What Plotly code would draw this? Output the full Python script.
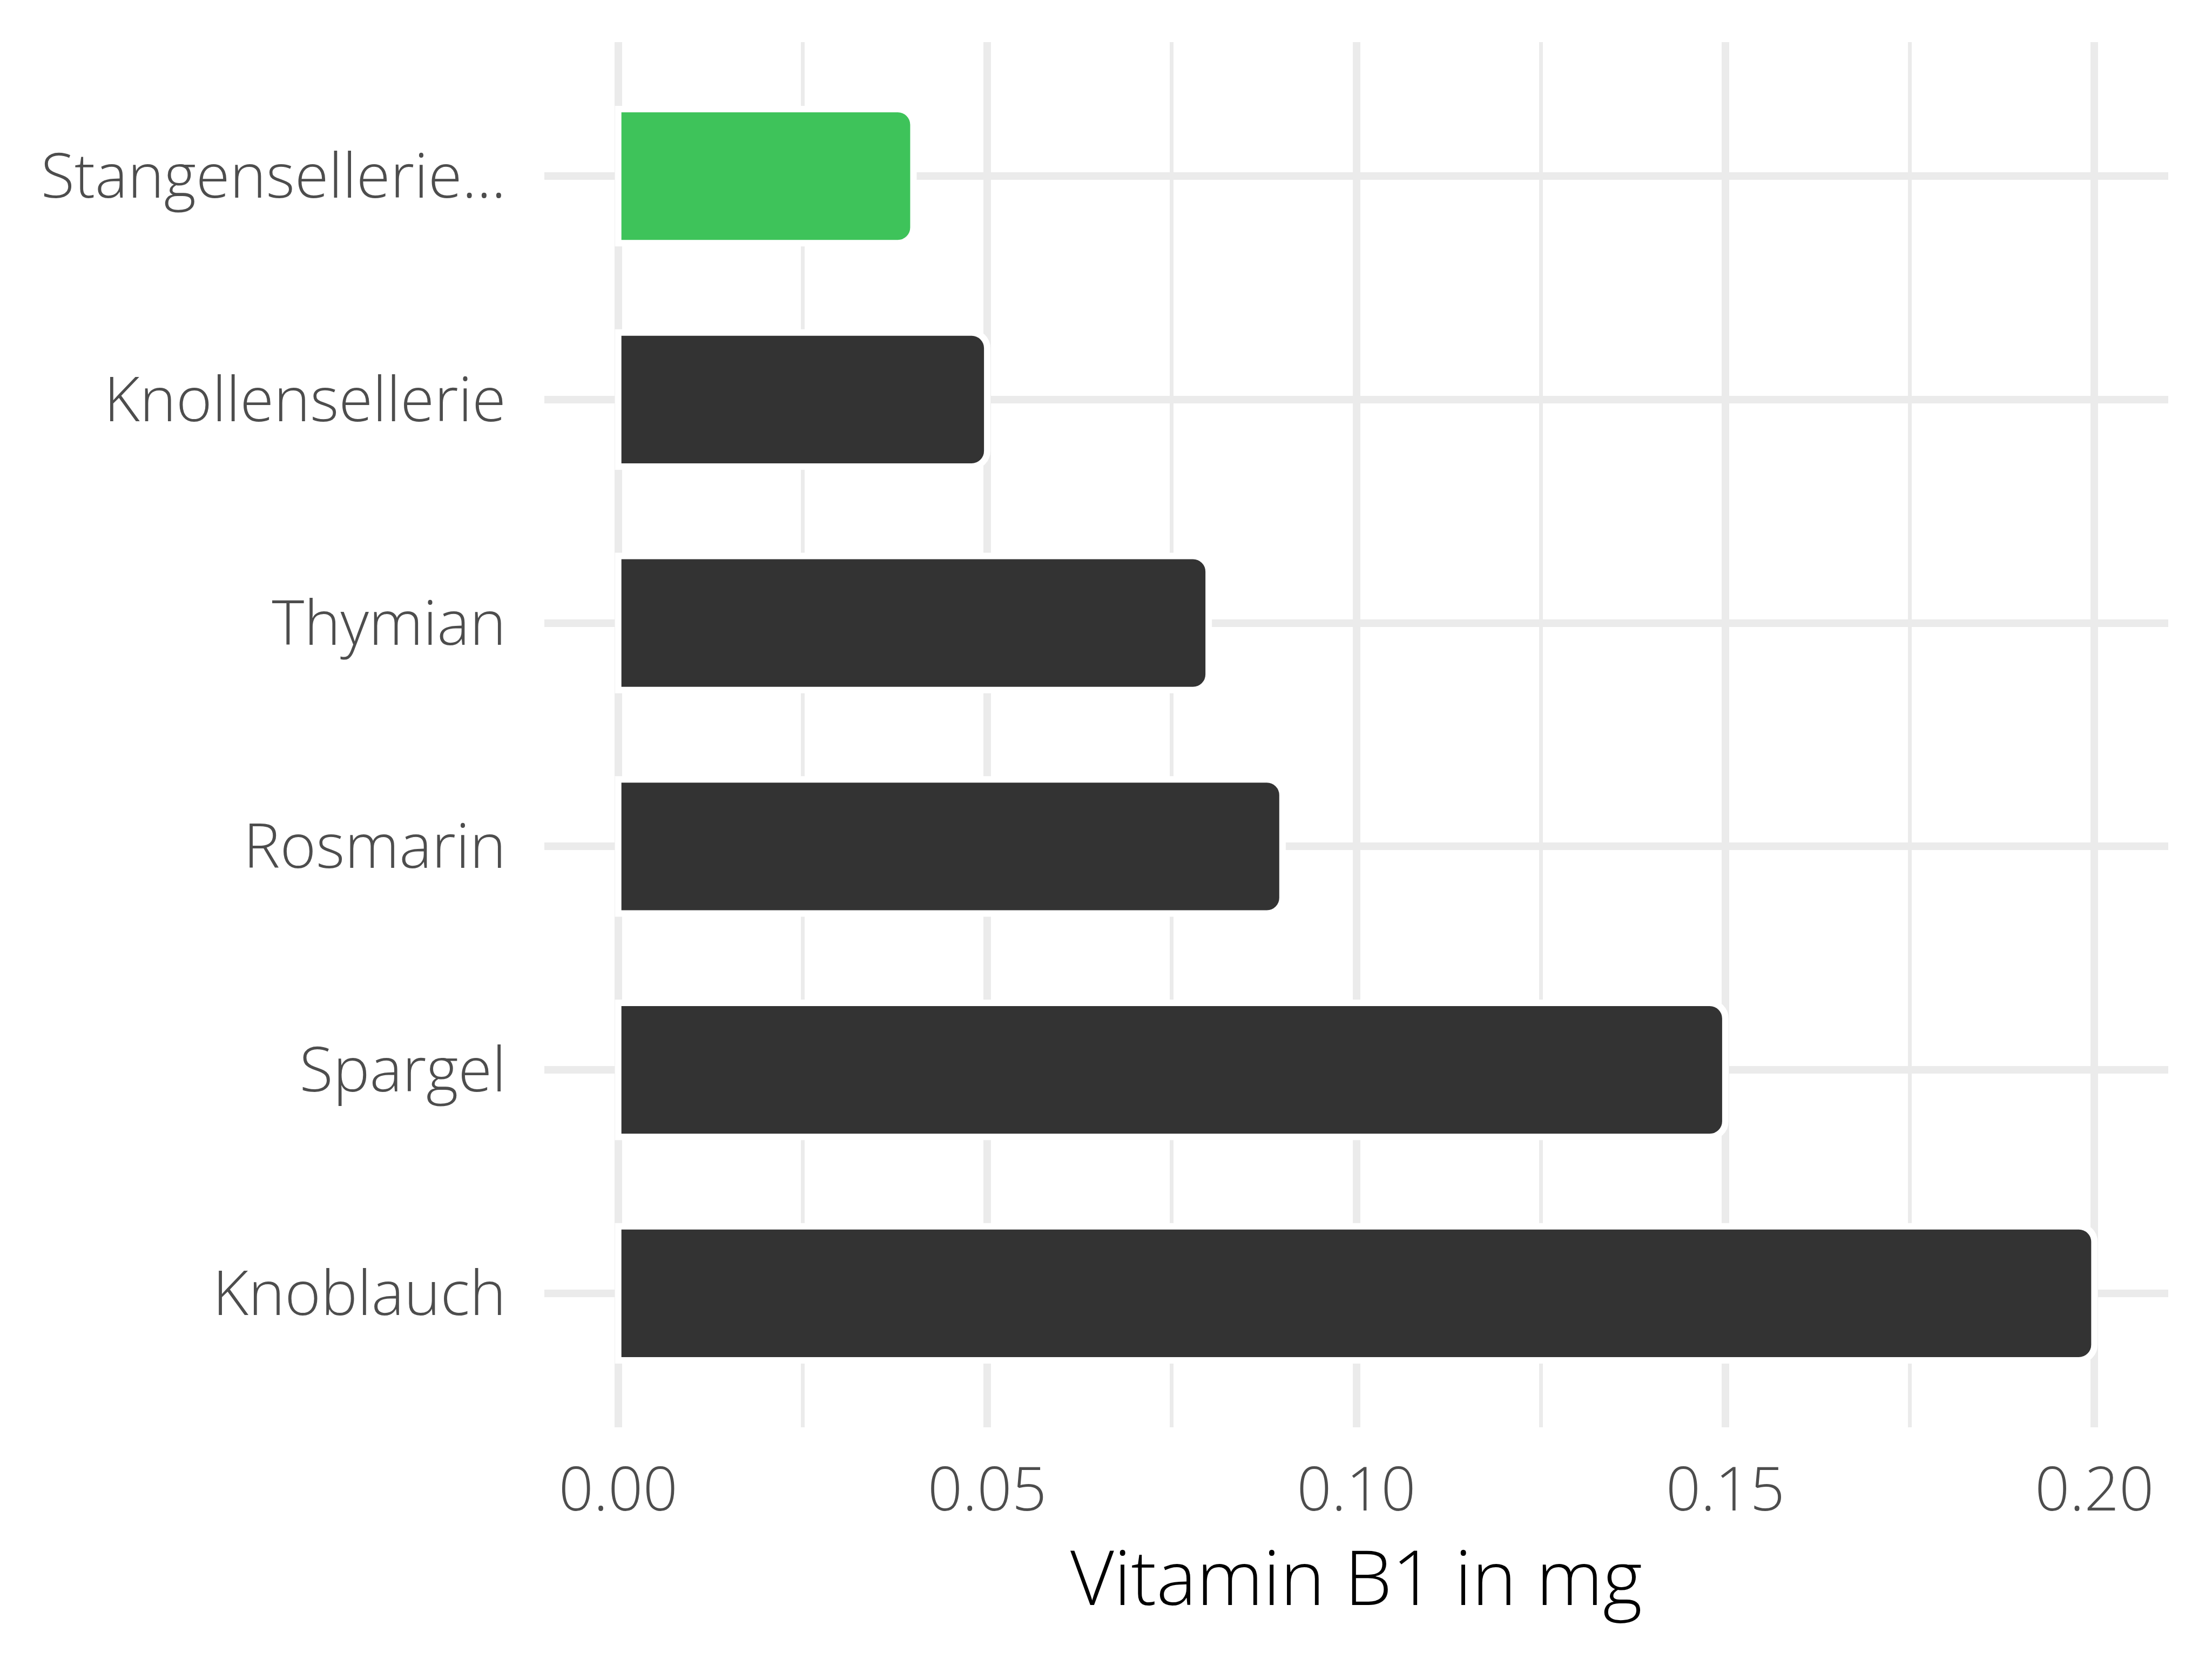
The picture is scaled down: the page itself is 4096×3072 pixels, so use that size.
import plotly.graph_objects as go

categories = ["Knoblauch", "Spargel", "Rosmarin", "Thymian", "Knollensellerie", "Stangensellerie..."]
values = [0.20, 0.15, 0.09, 0.08, 0.05, 0.04]
colors = ["#333333", "#333333", "#333333", "#333333", "#333333", "#3EC35A"]
x_ticks = [0.00, 0.05, 0.10, 0.15, 0.20]
x_tick_labels = ["0.00", "0.05", "0.10", "0.15", "0.20"]
x_title = "Vitamin B1 in mg"

FONT = "Open Sans"

fig = go.Figure(go.Bar(
    x=values, y=categories, orientation="h",
    width=0.6,
    marker=dict(color=colors, line=dict(color="white", width=12), cornerradius=29),
))

fig.update_layout(
    width=4096, height=3072,
    margin=dict(l=1000, r=89, t=70, b=437),
    paper_bgcolor="white", plot_bgcolor="white",
    showlegend=False,
    font=dict(family=FONT),
)
fig.add_annotation(
    text=x_title, xref="paper", yref="paper", x=0.5, y=-0.1072,
    xanchor="center", yanchor="middle", showarrow=False,
    font=dict(family=FONT, size=140, color="black", weight=300),
)
fig.update_xaxes(
    range=[-0.01, 0.21],
    tickvals=x_ticks, ticktext=x_tick_labels,
    showgrid=True, gridcolor="#EBEBEB", gridwidth=14,
    minor=dict(dtick=0.025, tick0=0, showgrid=True, gridcolor="#EBEBEB", gridwidth=7),
    zeroline=False, showline=False, ticks="",
    ticklabelstandoff=40,
    tickfont=dict(family=FONT, size=113, color="#4D4D4D", weight=300),
)
fig.update_yaxes(
    type="category",
    range=[-0.6, 5.6],
    showgrid=True, gridcolor="#EBEBEB", gridwidth=14,
    zeroline=False, showline=False, ticks="",
    ticklabelstandoff=70,
    tickfont=dict(family=FONT, size=114, color="#4D4D4D", weight=300),
)

fig.write_html("out.html")
